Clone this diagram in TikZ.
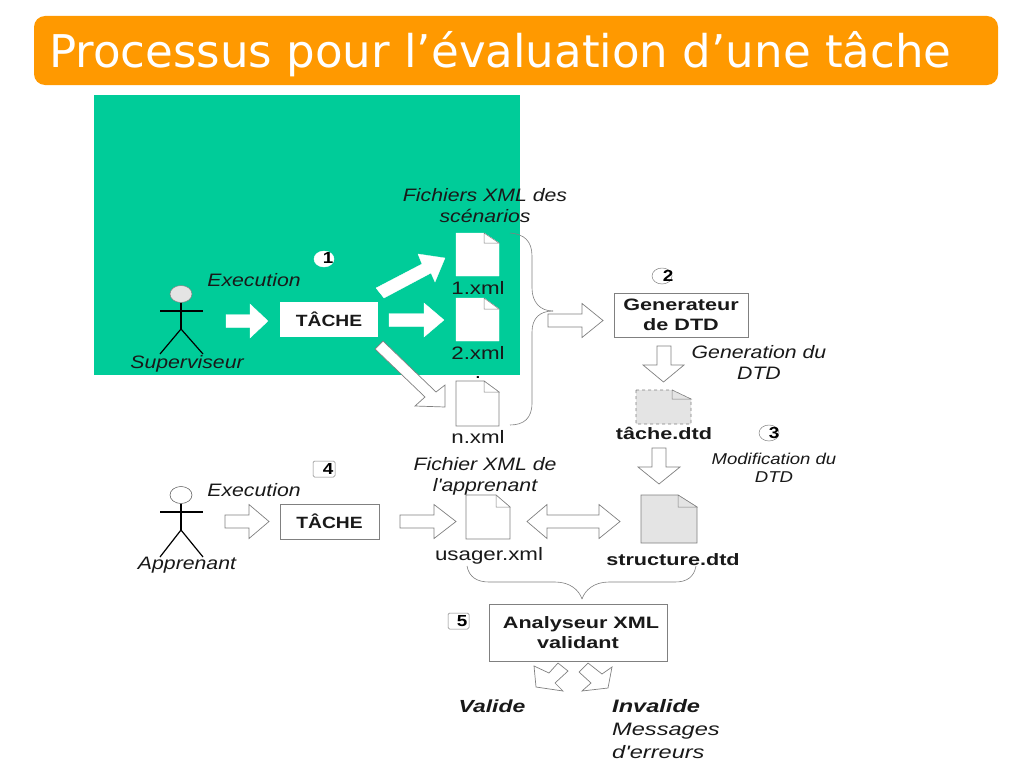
\documentclass[tikz,border=0pt]{standalone}
\usepackage{fontspec}
\usetikzlibrary{shapes.geometric}
\newfontfamily\bodyfont[FakeStretch=1.18]{Liberation Sans}
\newfontfamily\bodywide[FakeStretch=1.31]{Liberation Sans}
\newfontfamily\xmlfont[FakeStretch=1.24]{Liberation Sans}
\newfontfamily\titlefont{DejaVu Sans}
\definecolor{titleorange}{HTML}{FF9900}
\definecolor{panelgreen}{HTML}{00CC99}
\definecolor{softgray}{HTML}{E4E4E4}
\definecolor{linegray}{HTML}{808080}
\tikzset{
  fatwhite/.style={fill=white,draw=white,line width=0.3pt},
  fatline/.style={fill=white,draw=linegray,line width=0.7pt},
  docwhite/.style={fill=white,draw=white,line width=0.3pt},
  docline/.style={fill=white,draw=linegray,line width=0.7pt},
  docgray/.style={fill=softgray,draw=linegray,line width=0.7pt},
  docdash/.style={fill=softgray,draw=linegray,line width=0.7pt,dashed},
  bracket/.style={draw=linegray,line width=0.6pt},
  stick/.style={draw=black,line width=1.2pt},
  lab/.style={font=\xmlfont\fontsize{18}{20}\selectfont,align=center,inner sep=0pt,text=black!90},
  labi/.style={lab,font=\bodyfont\fontsize{18}{21}\selectfont\itshape},
  labb/.style={lab,font=\bodywide\fontsize{16.5}{20.5}\selectfont\bfseries},
  labt/.style={lab,font=\bodyfont\fontsize{16.3}{20}\selectfont\bfseries},
  numb/.style={font=\bodyfont\fontsize{16}{18}\selectfont\bfseries,inner sep=0pt},
  boxw/.style={rectangle,inner sep=0pt,fill=white},
}
% horizontal fat arrow: x tail, x head start, x tip, y centre
\newcommand{\hfat}[5][fatline]{\draw[#1] (#2,#5-6.5) -- (#3,#5-6.5) -- (#3,#5-17) -- (#4,#5) -- (#3,#5+17) -- (#3,#5+6.5) -- (#2,#5+6.5) -- cycle;}
% file icon: x0,y0,x1,y1,foldx,foldy
\newcommand{\docicon}[7][docline]{%
  \draw[#1] (#2,#3) -- (#6,#3) -- (#4,#7) -- (#4,#5) -- (#2,#5) -- cycle;
  \draw[#1,solid,draw=linegray,line width=0.5pt] (#6,#3) -- (#6,#7) -- (#4,#7) -- cycle;}
\begin{document}
\begin{tikzpicture}[x=1pt,y=-1pt]
\useasboundingbox (0,0) rectangle (1024,768);
\fill[white] (0,0) rectangle (1024,768);
% title
\node[rectangle,rounded corners=11pt,fill=titleorange,minimum width=964pt,minimum height=69pt,inner sep=0pt] (titlebar) at (516,50.5) {};
\node[anchor=west,text=white,inner sep=0pt,font=\titlefont\fontsize{45.1}{50}\selectfont] (titletext) at (49,54) {Processus pour l’évaluation d’une tâche};
% green panel
\fill[panelgreen] (94,95) rectangle (520,375);
% actor 1
\node[ellipse,draw=linegray,line width=0.5pt,fill=softgray,minimum width=22pt,minimum height=17pt,inner sep=0pt] (head1) at (181,294) {};
\draw[stick] (head1.south) -- (181,329) coordinate (hip1);
\draw[stick] (160,311) -- (203,311);
\draw[stick] (160,354) -- (hip1) -- (203,354);
\node[labi] (sup) at (187,364) {Superviseur};
\node[labi] (exec1) at (254,280) {Execution};
% actor 2
\node[ellipse,draw=black!70,line width=0.5pt,fill=white,minimum width=22pt,minimum height=17pt,inner sep=0pt] (head2) at (181,495) {};
\draw[stick] (head2.south) -- (181,530) coordinate (hip2);
\draw[stick] (160,512) -- (203,512);
\draw[stick] (160,557) -- (hip2) -- (203,557);
\node[labi] (app) at (187,565) {Apprenant};
\node[labi] (exec2) at (254,490) {Execution};
% tasks
\node[boxw,minimum width=98pt,minimum height=35pt,labt] (t1) at (329,319.5) {TÂCHE};
\node[boxw,draw=linegray,line width=0.7pt,minimum width=99pt,minimum height=35pt,labt] (t2) at (329.5,521.5) {TÂCHE};
\node[boxw,draw=linegray,line width=0.7pt,minimum width=134pt,minimum height=44pt,labb] (gen) at (681,315) {\raisebox{-1pt}{Generateur}\\\raisebox{-1pt}{de DTD}};
\node[boxw,draw=linegray,line width=0.7pt,minimum width=178pt,minimum height=57pt,labb] (ana) at (578,632.5) {\hspace*{6pt}Analyseur XML\\validant};
% fat arrows row 1
\hfat[fatwhite]{226}{250}{268}{321}
\hfat[fatwhite]{389}{424}{444}{320}
\draw[fatwhite] (376,288) -- (422,264) -- (418,254) -- (445,258) -- (435,282) -- (431,273) -- (384,298) -- cycle;
\draw[fatline] (383,341) -- (436,392) -- (445,385) -- (445,407) -- (415,406) -- (425,397) -- (375,349) -- cycle;
% files
\docicon[docwhite]{456}{233}{499}{276}{484}{243}
\docicon[docwhite]{456}{298}{499}{341}{484}{309}
\docicon[docline]{456}{381}{499}{426}{484}{392}
\node[lab] (f1) at (478,288) {1.xml};
\node[lab] (f2) at (478,353) {2.xml};
\node[lab] (fn) at (478,437) {n.xml};
\node[inner sep=0pt,anchor=base,font=\xmlfont\fontsize{18}{20}\selectfont] (dot) at (478,378) {.};
\node[labi] (fich) at (485,205.5) {Fichiers XML des\\scénarios};
% numbers
\node[ellipse,fill=white,draw=white,minimum width=20pt,minimum height=16pt,inner sep=0pt] (c1) at (324,259) {};
\node[numb] (n1) at (328,258) {1};
\node[ellipse,draw=linegray,line width=0.5pt,fill=white,minimum width=20pt,minimum height=16pt,inner sep=0pt] (c2) at (662,276) {};
\node[numb] (n2) at (668,276) {2};
\node[ellipse,draw=linegray,line width=0.5pt,fill=white,minimum width=20pt,minimum height=16pt,inner sep=0pt] (c3) at (769,433) {};
\node[numb] (n3) at (774,433) {3};
\node[rectangle,rounded corners=1.5pt,draw=linegray,line width=0.5pt,minimum width=22pt,minimum height=16pt,inner sep=0pt] (c4) at (324,469) {};
\node[numb] (n4) at (328,469) {4};
\node[rectangle,rounded corners=1.5pt,draw=linegray,line width=0.5pt,minimum width=21pt,minimum height=16pt,inner sep=0pt] (c5) at (458.5,621) {};
\node[numb] (n5) at (462,621) {5};
% right brace
\draw[bracket] (510,233) .. controls (524,234) and (532,241) .. (532,256) -- (532,288) .. controls (532,302) and (540,311) .. (553,311);
\draw[bracket] (553,311) .. controls (540,311) and (532,318) .. (532,332) -- (532,403) .. controls (532,418) and (524,425) .. (510,425);
\hfat{548}{582}{603}{320.5}
% DTD column
\draw[fatline] (657,346) -- (671,346) -- (671,365) -- (684,365) -- (663.5,382) -- (643,365) -- (657,365) -- cycle;
\docicon[docdash]{636}{390}{691}{424}{672}{399}
\node[labb] (tdtd) at (664,433) {tâche.dtd};
\node[labi] (gtxt) at (759,362.5) {Generation du\\DTD};
\draw[fatline] (652,448) -- (666,448) -- (666,467) -- (680,467) -- (659,484) -- (638,467) -- (652,467) -- cycle;
\node[labi,font=\bodyfont\fontsize{15.7}{18}\selectfont\itshape] (mtxt) at (774,468) {Modification du\\DTD};
\docicon[docgray]{641}{495}{697}{543}{678}{507}
\node[labb] (sdtd) at (673,560) {structure.dtd};
% row 2
\hfat{225}{249}{269}{521.5}
\hfat{400}{434}{456}{521.5}
\docicon[docline]{466}{495}{510}{539}{496}{507}
\node[lab] (uxml) at (489,556) {usager.xml};
\node[labi] (fichu) at (485,476) {Fichier XML de\\l'apprenant};
\draw[fatline] (527,521.5) -- (547,504.5) -- (547,515) -- (599,515) -- (599,504.5) -- (620,521.5) -- (599,538.5) -- (599,528) -- (547,528) -- (547,538.5) -- cycle;
% bottom brace
\draw[bracket] (467,566) .. controls (469,577) and (477,582) .. (489,582) -- (555,582) .. controls (570,582) and (579,590) .. (582,599);
\draw[bracket] (582,599) .. controls (585,590) and (594,582) .. (609,582) -- (675,582) .. controls (687,582) and (694,577) .. (696,566);
% outputs
\draw[fatline] (534,666) -- (549,673) -- (558,663) -- (568,671) -- (555,683) -- (563,691) -- (536,687) -- cycle;
\draw[fatline] (612,667) -- (608,688) -- (582,691) -- (591,683) -- (579,672) -- (588,663) -- (602,674) -- cycle;
\node[labi,font=\bodywide\fontsize{17.5}{21}\selectfont\bfseries\itshape] (valid) at (492,706) {Valide};
\node[anchor=north west,labi,align=left,font=\bodywide\fontsize{18}{23}\selectfont\itshape] (inval) at (612,699) {\textbf{Invalide}\\Messages\\d'erreurs};
\end{tikzpicture}
\end{document}
